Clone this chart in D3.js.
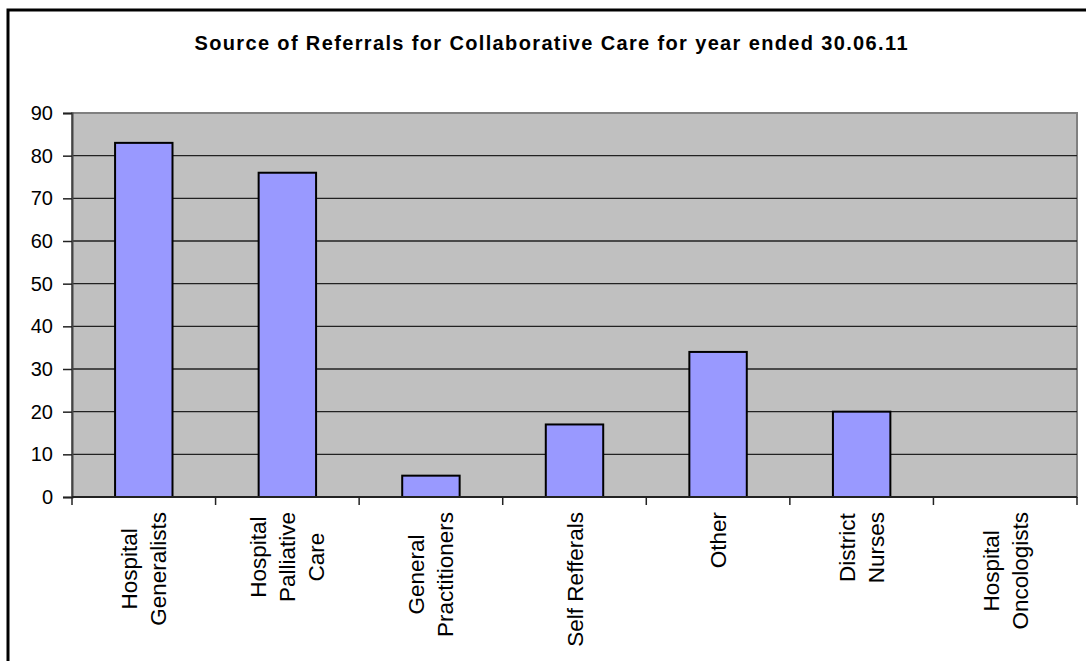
<!DOCTYPE html>
<html>
<head>
<meta charset="utf-8">
<script src="https://cdn.jsdelivr.net/npm/d3@7"></script>
<style>
  html, body { margin: 0; padding: 0; background: #fff; }
  svg { display: block; font-family: "Liberation Sans", Arial, sans-serif; }
</style>
</head>
<body>
<div id="chart"></div>
<script>
const categories = [
    'Hospital\nGeneralists',
    'Hospital\nPalliative\nCare',
    'General\nPractitioners',
    'Self Refferals',
    'Other',
    'District\nNurses',
    'Hospital\nOncologists'
];
const referrals = [83, 76, 5, 17, 34, 20, 0];
const yTicks = [0, 10, 20, 30, 40, 50, 60, 70, 80, 90];
const title = 'Source of Referrals for Collaborative Care for year ended 30.06.11';

const width = 1086, height = 661;
const plot = { left: 72, right: 1077, top: 113, bottom: 497 };

const svg = d3.select('#chart').append('svg')
    .attr('width', width)
    .attr('height', height);

// outer chart frame (runs off the right/bottom of the picture)
svg.append('rect')
    .attr('x', 8).attr('y', 10)
    .attr('width', 1100).attr('height', 700)
    .attr('fill', '#fff')
    .attr('stroke', '#000')
    .attr('stroke-width', 3);

svg.append('text')
    .attr('x', 551).attr('y', 50)
    .attr('text-anchor', 'middle')
    .attr('font-size', 20)
    .attr('font-weight', 'bold')
    .attr('textLength', 713)
    .attr('lengthAdjust', 'spacing')
    .text(title);

const x = d3.scaleBand()
    .domain(categories)
    .range([plot.left, plot.right])
    .paddingInner(0.6)
    .paddingOuter(0.3);

const y = d3.scaleLinear()
    .domain([0, 90])
    .range([plot.bottom, plot.top]);

// plot area
svg.append('rect')
    .attr('x', plot.left).attr('y', plot.top)
    .attr('width', plot.right - plot.left)
    .attr('height', plot.bottom - plot.top)
    .attr('fill', '#c0c0c0')
    .attr('stroke', '#808080')
    .attr('stroke-width', 2);

// gridlines
svg.append('g')
    .selectAll('line')
    .data(yTicks.filter(t => t > 0 && t < 90))
    .enter().append('line')
    .attr('x1', plot.left).attr('x2', plot.right)
    .attr('y1', d => y(d)).attr('y2', d => y(d))
    .attr('stroke', '#222')
    .attr('stroke-width', 1.3);

// y axis
const yAxis = svg.append('g')
    .attr('transform', `translate(${plot.left},0)`)
    .call(d3.axisLeft(y).tickValues(yTicks).tickSize(9).tickPadding(10));
yAxis.select('.domain').attr('stroke', '#444').attr('stroke-width', 2);
yAxis.selectAll('.tick line').attr('stroke', '#222').attr('stroke-width', 1.5);
yAxis.selectAll('.tick text')
    .attr('font-size', 20)
    .attr('fill', '#000')
    .attr('font-family', '"Liberation Sans", Arial, sans-serif');

// bars
svg.append('g')
    .selectAll('rect')
    .data(categories)
    .enter().append('rect')
    .attr('x', d => x(d))
    .attr('y', (d, i) => y(referrals[i]))
    .attr('width', x.bandwidth())
    .attr('height', (d, i) => y(0) - y(referrals[i]))
    .attr('fill', '#9999ff')
    .attr('stroke', '#000')
    .attr('stroke-width', 2);

// x axis line and category boundary ticks
const gap = (x.step() - x.bandwidth()) / 2;
const boundaries = categories.map(d => x(d) - gap).concat([plot.right]);
svg.append('line')
    .attr('x1', plot.left).attr('x2', plot.right)
    .attr('y1', y(0)).attr('y2', y(0))
    .attr('stroke', '#222')
    .attr('stroke-width', 2);
svg.append('g')
    .selectAll('line')
    .data(boundaries)
    .enter().append('line')
    .attr('x1', d => d).attr('x2', d => d)
    .attr('y1', y(0)).attr('y2', y(0) + 8)
    .attr('stroke', '#222')
    .attr('stroke-width', 1.5);

// rotated category labels
const labelTop = 512;
const lineGap = 29;
categories.forEach(cat => {
    const lines = cat.split('\n');
    const cx = x(cat) + x.bandwidth() / 2;
    const g = svg.append('g')
        .attr('font-size', 22.5)
        .attr('fill', '#000');
    const texts = lines.map((line, i) => g.append('text')
        .attr('text-anchor', 'middle')
        .attr('y', (i - (lines.length - 1) / 2) * lineGap + 8)
        .text(line));
    const longest = d3.max(texts, t => t.node().getComputedTextLength());
    texts.forEach(t => t.attr('x', -longest / 2));
    g.attr('transform', `translate(${cx},${labelTop}) rotate(-90)`);
});
</script>
</body>
</html>
